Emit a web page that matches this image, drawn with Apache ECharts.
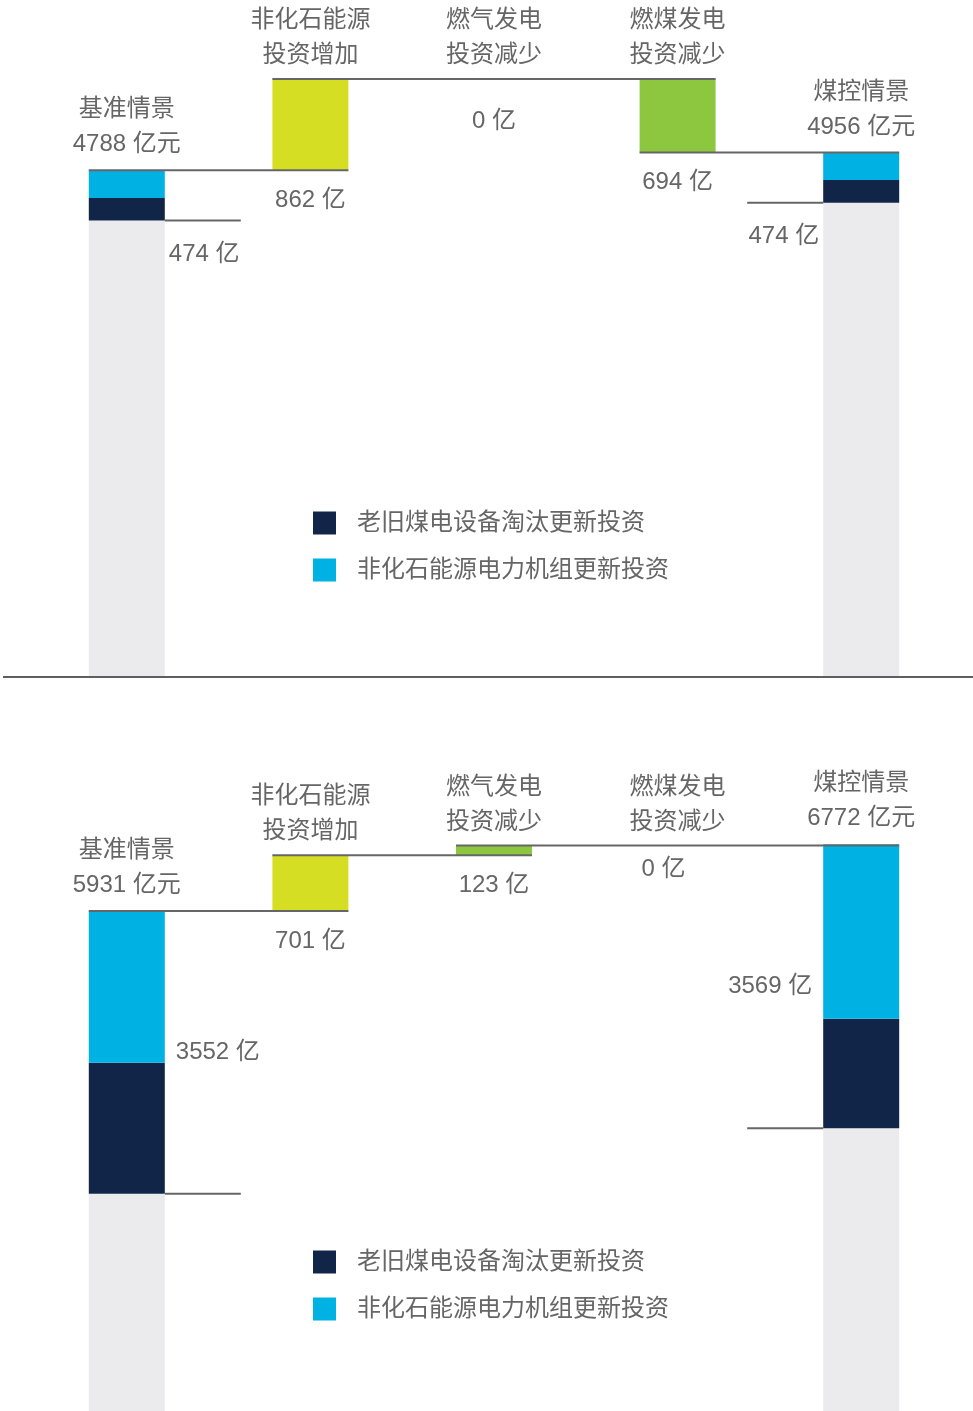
<!DOCTYPE html>
<html>
<head>
<meta charset="utf-8">
<script src="https://cdn.jsdelivr.net/npm/echarts@6/dist/echarts.min.js"></script>
<style>
  html, body { margin: 0; padding: 0; background: #ffffff; }
  #chart { width: 973px; height: 1411px; }
</style>
</head>
<body>
<div id="chart"></div>
<script>
// Column labels shared by both waterfall panels
const categories = ['基准情景', '非化石能源\n投资增加', '燃气发电\n投资减少', '燃煤发电\n投资减少', '煤控情景'];
const retireName = '老旧煤电设备淘汰更新投资';
const renewName = '非化石能源电力机组更新投资';

// Upper panel (亿元): scenario totals, step changes, renewal split of each total
const topTotals = [4788, 4956];
const topChanges = [862, 0, -694];
const topRetire = [212, 214];
const topRenew = [262, 260];

// Lower panel (亿元)
const bottomTotals = [5931, 6772];
const bottomChanges = [701, 123, 0];
const bottomRetire = [1646, 1376];
const bottomRenew = [1906, 2193];

const FONT = '"Liberation Sans", "Noto Sans CJK SC", sans-serif';
const TEXT = '#666666';
const RULE = '#666666';
const COLORS = {
  grey: '#ebebed',
  retire: '#112548',
  renew: '#00b2e3',
  gain: '#d6de23',
  fossil: '#8dc63f'
};
const BAR_W = 76;

const textBase = { color: TEXT, fontSize: 24, fontFamily: FONT, textBorderWidth: 0 };

function panelSeries(idx, totals, changes, retire, renew, cfg) {
  const n = categories.length;
  const last = n - 1;
  const stack = 'wf' + idx;

  // running level after each column
  const level = [totals[0]];
  changes.forEach(c => level.push(level[level.length - 1] + c));

  const blank = () => new Array(n).fill('-');
  const seg = [retire[0] + renew[0], retire[1] + renew[1]];
  const stub = blank(), grey = blank(), offset = blank(), navy = blank(),
        cyan = blank(), gain = blank(), fossil = blank();

  [0, last].forEach((col, k) => {
    grey[col] = totals[k] - seg[k];
    navy[col] = retire[k];
    cyan[col] = renew[k];
    if (cfg.min < 0) stub[col] = cfg.min; // grey column runs on to the frame edge
  });

  changes.forEach((c, k) => {
    const col = k + 1;
    const item = { value: Math.min(level[k], level[k + 1]) };
    if (c === 0 && cfg.zeroLabel) item.label = cfg.zeroLabel;
    offset[col] = item;
    (k === 0 ? gain : fossil)[col] = Math.abs(c);
  });

  // connector rules: one per held level, from the left edge of the first
  // column to the right edge of the column where the level changes
  const lines = [];
  let i = 0;
  while (i < last) {
    let j = i + 1;
    while (j < last && changes[j - 1] === 0) j++;
    lines.push([i, j, level[i]]);
    i = j;
  }

  const brackets = [
    [0, totals[0] - seg[0], totals[0], seg[0]],
    [last, totals[1] - seg[1], totals[1], seg[1]]
  ];

  const common = { type: 'bar', stack: stack, xAxisIndex: idx, yAxisIndex: idx, barWidth: BAR_W };
  const greyStyle = { color: COLORS.grey };
  const nameLabel = {
    show: true, position: 'top', distance: 6, lineHeight: 35,
    ...textBase,
    formatter: p => categories[p.dataIndex]
  };

  return [
    Object.assign({}, common, {
      name: 'stub' + idx, data: stub, itemStyle: greyStyle, silent: true
    }),
    Object.assign({}, common, {
      name: 'base' + idx, data: grey, itemStyle: greyStyle, silent: true
    }),
    Object.assign({}, common, {
      name: 'offset' + idx, data: offset, itemStyle: { color: 'transparent' }, silent: true,
      label: {
        show: true, position: 'insideTop', distance: 18, lineHeight: 24,
        ...textBase,
        formatter: p => Math.abs(changes[p.dataIndex - 1]) + ' 亿'
      }
    }),
    Object.assign({}, common, {
      name: retireName, data: navy, itemStyle: { color: COLORS.retire }
    }),
    Object.assign({}, common, {
      name: renewName, data: cyan, itemStyle: { color: COLORS.renew },
      label: Object.assign({}, nameLabel, {
        distance: 8,
        formatter: p => categories[p.dataIndex] + '\n' +
          totals[p.dataIndex === 0 ? 0 : 1] + ' 亿元'
      })
    }),
    Object.assign({}, common, {
      name: 'gain' + idx, data: gain, itemStyle: { color: COLORS.gain }, label: nameLabel
    }),
    Object.assign({}, common, {
      name: 'fossil' + idx, data: fossil, itemStyle: { color: COLORS.fossil }, label: nameLabel
    }),
    {
      type: 'custom', name: 'rules' + idx, xAxisIndex: idx, yAxisIndex: idx,
      silent: true, z: 5, data: lines,
      encode: { x: 0, y: 2 },
      renderItem: (params, api) => {
        const a = api.coord([api.value(0), api.value(2)]);
        const b = api.coord([api.value(1), api.value(2)]);
        return {
          type: 'line',
          shape: { x1: a[0] - BAR_W / 2, y1: a[1], x2: b[0] + BAR_W / 2, y2: b[1] },
          style: { stroke: RULE, lineWidth: 2 }
        };
      }
    },
    {
      type: 'custom', name: 'brackets' + idx, xAxisIndex: idx, yAxisIndex: idx,
      silent: true, z: 5, data: brackets,
      encode: { x: 0, y: 1 },
      renderItem: (params, api) => {
        const col = api.value(0);
        const low = api.coord([col, api.value(1)]);
        const high = api.coord([col, api.value(2)]);
        const side = col === 0 ? 1 : -1;
        const edge = low[0] + side * BAR_W / 2;
        const ty = cfg.segMode === 'below' ? low[1] + cfg.segDy : (low[1] + high[1]) / 2;
        return {
          type: 'group',
          children: [
            {
              type: 'line',
              shape: { x1: edge, y1: low[1], x2: edge + side * BAR_W, y2: low[1] },
              style: { stroke: RULE, lineWidth: 2 }
            },
            {
              type: 'text',
              style: {
                text: api.value(3) + ' 亿',
                x: edge + side * cfg.segGap, y: ty,
                align: side > 0 ? 'left' : 'right', verticalAlign: 'middle',
                fill: TEXT, fontSize: 24, fontFamily: FONT
              }
            }
          ]
        };
      }
    }
  ];
}

// Lower panel: 557 px above the zero line, 28 px of grey column below it
const BOTTOM_MAX = 7000;
const BOTTOM_MIN = -BOTTOM_MAX * 28 / 557;

const topCfg = { min: 0, max: 6000, segMode: 'below', segDy: 34, segGap: 4, zeroLabel: { distance: 30 } };
const bottomCfg = { min: BOTTOM_MIN, max: BOTTOM_MAX, segMode: 'middle', segGap: 11, zeroLabel: { distance: 12, offset: [-14, 0] } };

const hiddenX = idx => ({
  type: 'category', gridIndex: idx, data: categories,
  axisLine: { show: false }, axisTick: { show: false }, axisLabel: { show: false }, splitLine: { show: false }
});
const hiddenY = (idx, cfg) => ({
  type: 'value', gridIndex: idx, min: cfg.min, max: cfg.max,
  axisLine: { show: false }, axisTick: { show: false }, axisLabel: { show: false }, splitLine: { show: false }
});

const legendBase = {
  data: [retireName, renewName],
  orient: 'vertical', left: 313, padding: 0,
  icon: 'rect', itemWidth: 23, itemHeight: 23, itemGap: 23,
  selectedMode: false,
  textStyle: { color: TEXT, fontSize: 24, fontFamily: FONT, lineHeight: 23, padding: [0, 0, 0, 16] }
};

const chart = echarts.init(document.getElementById('chart'), null, { renderer: 'canvas' });
chart.setOption({
  animation: false,
  backgroundColor: '#ffffff',
  grid: [
    { left: 35, right: 20, top: 42, bottom: 734 },
    { left: 35, right: 20, top: 826, bottom: 0 }
  ],
  xAxis: [hiddenX(0), hiddenX(1)],
  yAxis: [hiddenY(0, topCfg), hiddenY(1, bottomCfg)],
  legend: [
    Object.assign({}, legendBase, { top: 511 }),
    Object.assign({}, legendBase, { top: 1250 })
  ],
  graphic: [{
    type: 'line', silent: true, z: 10,
    shape: { x1: 3, y1: 677, x2: 973, y2: 677 },
    style: { stroke: '#5f5f5f', lineWidth: 2 }
  }],
  series: [].concat(
    panelSeries(0, topTotals, topChanges, topRetire, topRenew, topCfg),
    panelSeries(1, bottomTotals, bottomChanges, bottomRetire, bottomRenew, bottomCfg)
  )
});
</script>
</body>
</html>
